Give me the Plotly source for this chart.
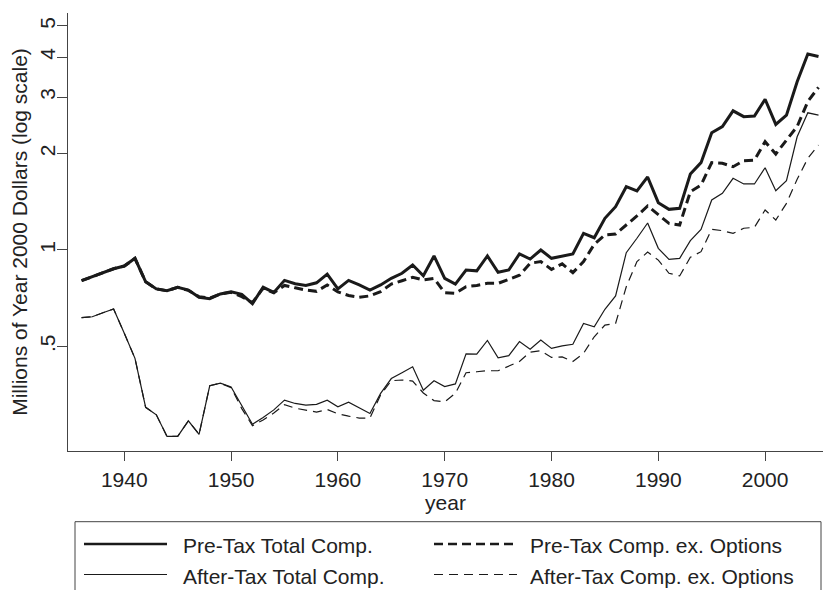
import plotly.graph_objects as go

years = list(range(1936, 2006))

pretax_total = [
    0.802, 0.825, 0.850, 0.874, 0.891, 0.942, 0.796, 0.756, 0.746, 0.765,
    0.750, 0.712, 0.705, 0.729, 0.740, 0.727, 0.680, 0.765, 0.737, 0.804,
    0.785, 0.775, 0.790, 0.841, 0.756, 0.804, 0.778, 0.750, 0.778, 0.816,
    0.846, 0.898, 0.831, 0.958, 0.816, 0.783, 0.866, 0.861, 0.958, 0.852,
    0.866, 0.972, 0.937, 1.000, 0.942, 0.958, 0.972, 1.127, 1.092, 1.256,
    1.365, 1.576, 1.528, 1.690, 1.405, 1.339, 1.349, 1.727, 1.873, 2.322,
    2.428, 2.718, 2.606, 2.617, 2.953, 2.465, 2.636, 3.349, 4.087, 4.015,
]

pretax_ex_options = [
    0.802, 0.825, 0.850, 0.874, 0.891, 0.942, 0.796, 0.756, 0.746, 0.765,
    0.748, 0.715, 0.708, 0.729, 0.738, 0.715, 0.685, 0.760, 0.735, 0.775,
    0.762, 0.750, 0.743, 0.778, 0.740, 0.721, 0.712, 0.719, 0.741, 0.783,
    0.802, 0.822, 0.806, 0.816, 0.736, 0.733, 0.768, 0.775, 0.787, 0.787,
    0.810, 0.834, 0.909, 0.920, 0.870, 0.905, 0.850, 0.920, 1.042, 1.114,
    1.122, 1.197, 1.277, 1.372, 1.286, 1.211, 1.197, 1.520, 1.595, 1.873,
    1.865, 1.819, 1.899, 1.908, 2.178, 1.993, 2.203, 2.428, 2.906, 3.219,
]

aftertax_total = [
    0.615, 0.619, 0.637, 0.655, 0.550, 0.459, 0.323, 0.306, 0.262, 0.262,
    0.293, 0.266, 0.377, 0.384, 0.374, 0.327, 0.286, 0.300, 0.317, 0.340,
    0.332, 0.328, 0.330, 0.340, 0.324, 0.335, 0.321, 0.309, 0.357, 0.397,
    0.414, 0.432, 0.365, 0.391, 0.375, 0.382, 0.474, 0.473, 0.522, 0.461,
    0.468, 0.518, 0.490, 0.524, 0.493, 0.502, 0.508, 0.590, 0.576, 0.653,
    0.719, 0.981, 1.088, 1.214, 1.012, 0.935, 0.942, 1.069, 1.160, 1.432,
    1.503, 1.674, 1.607, 1.607, 1.806, 1.531, 1.645, 2.256, 2.680, 2.636,
]

aftertax_ex_options = [
    0.615, 0.619, 0.637, 0.655, 0.550, 0.459, 0.323, 0.306, 0.262, 0.262,
    0.293, 0.266, 0.377, 0.384, 0.372, 0.320, 0.283, 0.295, 0.310, 0.329,
    0.321, 0.317, 0.312, 0.318, 0.308, 0.303, 0.299, 0.299, 0.353, 0.391,
    0.393, 0.390, 0.358, 0.339, 0.336, 0.357, 0.414, 0.417, 0.420, 0.420,
    0.434, 0.449, 0.480, 0.485, 0.462, 0.464, 0.449, 0.476, 0.536, 0.583,
    0.590, 0.768, 0.920, 0.985, 0.930, 0.846, 0.830, 0.949, 0.988, 1.160,
    1.149, 1.127, 1.169, 1.177, 1.333, 1.240, 1.398, 1.662, 1.932, 2.126,
]

series_names = [
    "Pre-Tax Total Comp.",
    "Pre-Tax Comp. ex. Options",
    "After-Tax Total Comp.",
    "After-Tax Comp. ex. Options",
]

x_tick_vals = [1940, 1950, 1960, 1970, 1980, 1990, 2000]
y_tick_vals = [0.5, 1, 2, 3, 4, 5]
y_tick_text = [".5", "1", "2", "3", "4", "5"]

INK = "#1a1a1a"
AXIS = "#444444"
TXT = "#222222"
FONT = "Liberation Sans, Arial, Helvetica, sans-serif"
FS = 21

styles = [
    dict(width=3.0, dash="solid"),
    dict(width=3.0, dash="9px,5px"),
    dict(width=1.2, dash="solid"),
    dict(width=1.2, dash="9px,6px"),
]
all_series = [pretax_total, pretax_ex_options, aftertax_total, aftertax_ex_options]

fig = go.Figure()
for name, vals, st in zip(series_names, all_series, styles):
    fig.add_trace(go.Scatter(
        x=years, y=vals, mode="lines", name=name, showlegend=False,
        line=dict(color=INK, width=st["width"], dash=st["dash"]),
    ))

W, H = 825, 590
L, R, T, B = 68, 2, 13, 139
pw = W - L - R
ph = H - T - B

def px_x(x):
    return (x - L) / pw

def px_y(y):
    return (H - B - y) / ph

shapes = []
annotations = []
# legend box (Stata style)
shapes.append(dict(type="rect", xref="paper", yref="paper",
                   x0=px_x(75), x1=px_x(821), y0=px_y(600), y1=px_y(521.7),
                   line=dict(color=AXIS, width=1), fillcolor="rgba(0,0,0,0)"))
legend_pos = [(84, 167, 180.5, 544), (434, 517, 528, 544),
              (84, 167, 180.5, 574.5), (434, 517, 528, 574.5)]
for name, st, (xa, xb, xt, yy) in zip(series_names, styles, legend_pos):
    shapes.append(dict(type="line", xref="paper", yref="paper",
                       x0=px_x(xa), x1=px_x(xb), y0=px_y(yy), y1=px_y(yy),
                       line=dict(color=INK, width=2.7 if st["width"] > 2 else 1.0,
                                 dash=st["dash"])))
    annotations.append(dict(xref="paper", yref="paper", x=px_x(xt), y=px_y(yy + 1.5),
                            text=name, showarrow=False, xanchor="left", yanchor="middle",
                            font=dict(family=FONT, size=FS, color=TXT)))

fig.update_layout(
    width=W, height=H,
    margin=dict(l=L, r=R, t=T, b=B, pad=0),
    paper_bgcolor="white", plot_bgcolor="white",
    font=dict(family=FONT, size=FS, color=TXT),
    showlegend=False,
    shapes=shapes,
    annotations=annotations,
    hovermode=False,
)
fig.update_xaxes(
    range=[1934.73, 2005.42], tickvals=x_tick_vals,
    showline=True, linecolor=AXIS, linewidth=1.2,
    ticks="outside", ticklen=9, tickcolor=AXIS, tickwidth=1.2,
    showgrid=False, zeroline=False,
    tickfont=dict(family=FONT, size=FS, color=TXT),
    ticklabelstandoff=1,
    title=dict(text="year", standoff=5, font=dict(family=FONT, size=FS, color=TXT)),
    automargin=False,
)
fig.update_yaxes(
    type="log", range=[-0.6272, 0.7395],
    tickvals=y_tick_vals, ticktext=y_tick_text, tickangle=-90,
    showline=True, linecolor=AXIS, linewidth=1.2,
    ticks="outside", ticklen=10, tickcolor=AXIS, tickwidth=1.2,
    showgrid=False, zeroline=False,
    tickfont=dict(family=FONT, size=FS, color=TXT),
    ticklabelstandoff=-6,
    title=dict(text="Millions of Year 2000 Dollars (log scale)", standoff=2,
               font=dict(family=FONT, size=FS, color=TXT)),
    automargin=False,
)

fig.write_html("out.html", config={"displayModeBar": False},
               post_script="document.body.style.margin='0';")
